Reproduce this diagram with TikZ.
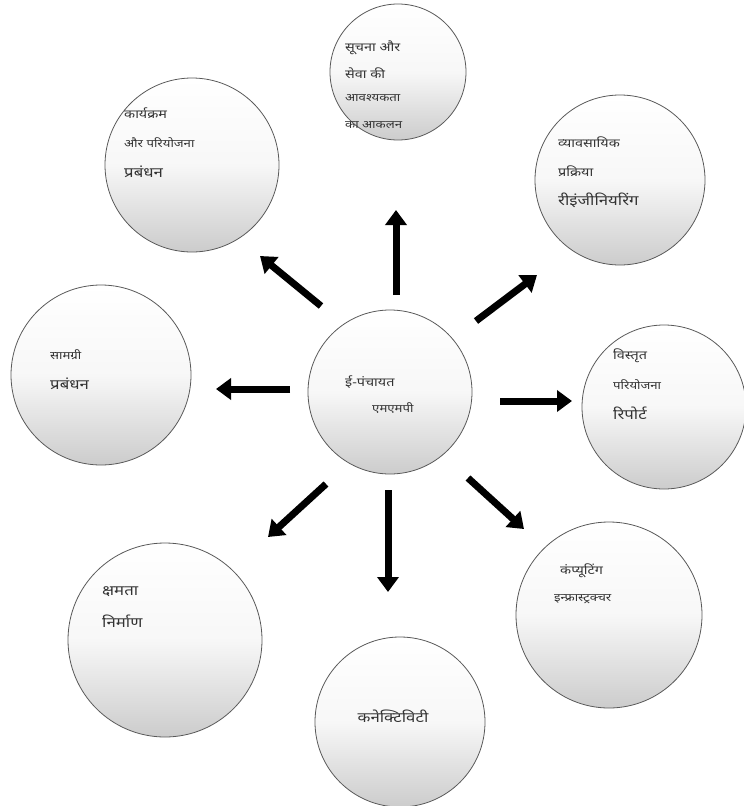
\documentclass[tikz,border=0pt]{standalone}
\usepackage{fontspec}
\newfontfamily\dev[Script=Devanagari,FakeStretch=1.2]{Noto Sans}
\usetikzlibrary{arrows.meta}
\begin{document}
\begin{tikzpicture}[x=1pt,y=-1pt,
  bub/.style={circle,draw=black!65,line width=0.8pt,top color=white,bottom color=black!20,middle color=black!3,inner sep=0pt},
  arr/.style={line width=7pt,-{Triangle[length=15pt,width=21pt]},black},
  lbl/.style={anchor=west,inner sep=0pt,font=\dev\fontsize{12}{13}\selectfont,text=black!80},
  lbs/.style={anchor=west,inner sep=0pt,font=\dev\fontsize{11}{12}\selectfont,text=black!80},
  lbb/.style={anchor=west,inner sep=0pt,font=\dev\fontsize{14}{15}\selectfont,text=black!80}]
\useasboundingbox (0,0) rectangle (744,806);
% circles
\node[bub,minimum size=164pt] (c) at (390,392) {};
\node[bub,minimum size=136pt] (t) at (398,72) {};
\node[bub,minimum size=174pt] (tl) at (192,165) {};
\node[bub,minimum size=170pt] (tr) at (620,180) {};
\node[bub,minimum size=180pt] (l) at (101,375) {};
\node[bub,minimum size=164pt] (r) at (664,407) {};
\node[bub,minimum size=194pt] (bl) at (165,640) {};
\node[bub,minimum size=170pt] (b) at (400,722) {};
\node[bub,minimum size=186pt] (br) at (609,615) {};
% texts
\node[lbl] (tl1) at (124,113) {कार्यक्रम};
\node[lbs] (tl2) at (124,143) {और परियोजना};
\node[lbb] (tl3) at (124,172) {प्रबंधन};
\node[lbl] (t1) at (345,48) {सूचना और};
\node[lbl] (t2) at (345,73) {सेवा की};
\node[lbs] (t3) at (345,98) {आवश्यकता};
\node[lbs] (t4) at (345,125) {का आकलन};
\node[lbl] (tr1) at (558,142) {व्यावसायिक};
\node[lbl] (tr2) at (558,171) {प्रक्रिया};
\node[lbb] (tr3) at (558,200) {रीइंजीनियरिंग};
\node[lbs] (l1) at (50,355) {सामग्री};
\node[lbb] (l2) at (50,384) {प्रबंधन};
\node[lbl] (c1) at (345,382) {ई-पंचायत};
\node[lbs] (c2) at (372,408) {एमएमपी};
\node[lbl] (r1) at (613,356) {विस्तृत};
\node[lbs] (r2) at (613,385) {परियोजना};
\node[lbb] (r3) at (613,413) {रिपोर्ट};
\node[lbl] (br1) at (560,571) {कंप्यूटिंग};
\node[lbs] (br2) at (554,599) {इन्फ्रास्ट्रक्चर};
\node[lbb] (bl1) at (102,592) {क्षमता};
\node[lbb] (bl2) at (102,621) {निर्माण};
\node[lbb,anchor=center] (b1) at (393,716) {कनेक्टिविटी};
% arrow ends
\coordinate (aus) at (396,295); \coordinate (aue) at (396,210);
\coordinate (auls) at (321,306); \coordinate (aule) at (260,256);
\coordinate (aurs) at (476,321); \coordinate (aure) at (537,275);
\coordinate (als) at (290,389); \coordinate (ale) at (216,389);
\coordinate (ars) at (500,401); \coordinate (are) at (572,401);
\coordinate (adls) at (326,484); \coordinate (adle) at (268,537);
\coordinate (ads) at (388,490); \coordinate (ade) at (388,592);
\coordinate (adrs) at (468,478); \coordinate (adre) at (524,529);
\draw[arr] (aus) -- (aue);
\draw[arr] (auls) -- (aule);
\draw[arr] (aurs) -- (aure);
\draw[arr] (als) -- (ale);
\draw[arr] (ars) -- (are);
\draw[arr] (adls) -- (adle);
\draw[arr] (ads) -- (ade);
\draw[arr] (adrs) -- (adre);
\end{tikzpicture}
\end{document}
